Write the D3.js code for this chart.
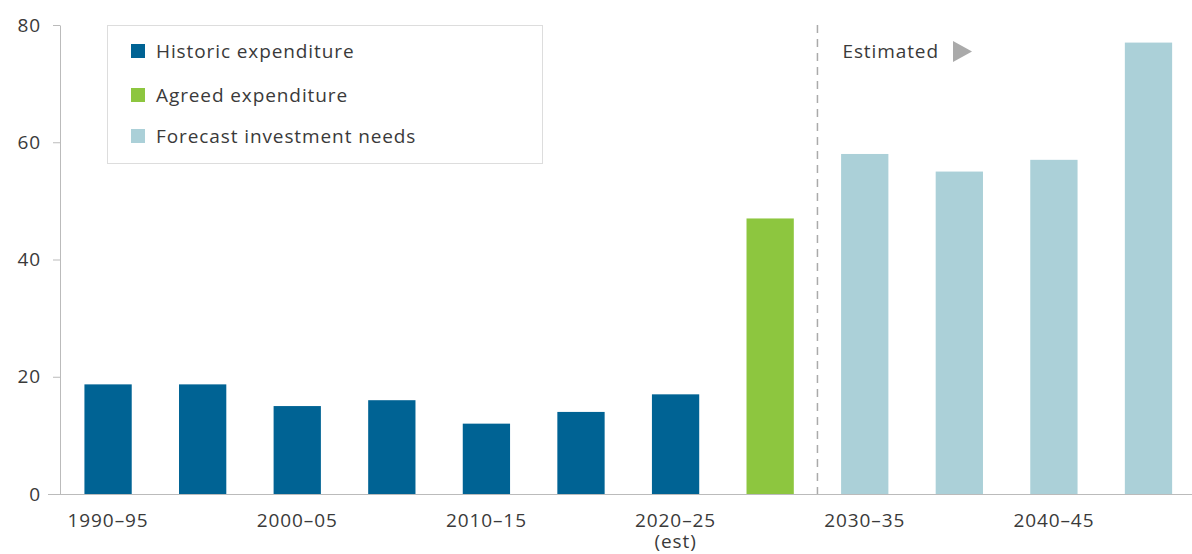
<!DOCTYPE html>
<html>
<head>
<meta charset="utf-8">
<script src="https://d3js.org/d3.v7.min.js"></script>
<style>
  body { margin: 0; background: #fff; }
  text { font-family: "Open Sans", sans-serif; fill: #3a3a3a; font-size: 19px; letter-spacing: 0.9px; }
</style>
</head>
<body>
<svg id="chart" width="1192" height="554"></svg>
<script>
// periods, one bar each; only every other one gets a label
var periods = ["1990-95", "1995-00", "2000-05", "2005-10", "2010-15", "2015-20",
               "2020-25", "2025-30", "2030-35", "2035-40", "2040-45", "2045-50"];
var tickLabels = ["1990–95", "", "2000–05", "", "2010–15", "", "2020–25", "", "2030–35", "", "2040–45", ""];
var values = [18.7, 18.7, 15, 16, 12, 14, 17, 47, 58, 55, 57, 77];
var kinds = ["historic", "historic", "historic", "historic", "historic", "historic", "historic",
             "agreed", "forecast", "forecast", "forecast", "forecast"];
var legendKeys = ["historic", "agreed", "forecast"];
var legendLabels = ["Historic expenditure", "Agreed expenditure", "Forecast investment needs"];
var yTicks = [0, 20, 40, 60, 80];

var color = d3.scaleOrdinal()
    .domain(legendKeys)
    .range(["#006394", "#8dc63f", "#abd0d8"]);

var svg = d3.select("#chart");
var axisX = 60, plotTop = 25, plotBottom = 494;

var x = d3.scaleBand().domain(periods).range([57, 1192])
    .paddingInner(0.5).paddingOuter(0.25).align(0.58);
var y = d3.scaleLinear().domain([0, 80]).range([plotBottom, plotTop]);

// y axis
var yAxis = svg.append("g").attr("transform", "translate(" + axisX + ",0)")
    .call(d3.axisLeft(y).tickValues(yTicks).tickSize(7).tickSizeOuter(0));
yAxis.select(".domain").attr("stroke", "#bbb");
yAxis.selectAll(".tick line").attr("stroke", "#bbb");
yAxis.selectAll(".tick text").attr("x", -19).attr("fill", "#3a3a3a")
    .style("font-size", "19px").style("font-family", "'Open Sans', sans-serif");

// bars
svg.append("g").selectAll("rect").data(values).join("rect")
    .attr("x", function(d, i) { return x(periods[i]); })
    .attr("y", function(d) { return y(d); })
    .attr("width", x.bandwidth())
    .attr("height", function(d) { return plotBottom - y(d); })
    .attr("fill", function(d, i) { return color(kinds[i]); });

// x axis
svg.append("line").attr("x1", 48).attr("x2", 1192)
    .attr("y1", plotBottom + 0.5).attr("y2", plotBottom + 0.5).attr("stroke", "#bbb");
svg.append("g").selectAll("text").data(periods).join("text")
    .attr("x", function(d) { return x(d) + x.bandwidth() / 2; })
    .attr("y", plotBottom + 33)
    .attr("text-anchor", "middle")
    .text(function(d, i) { return tickLabels[i]; });
svg.append("text")
    .attr("x", x("2020-25") + x.bandwidth() / 2).attr("y", plotBottom + 54)
    .attr("text-anchor", "middle").text("(est)");

// estimated divider
var divX = (x("2025-30") + x.bandwidth() + x("2030-35")) / 2;
svg.append("line").attr("x1", divX).attr("x2", divX)
    .attr("y1", plotTop).attr("y2", plotBottom)
    .attr("stroke", "#aaa").attr("stroke-width", 1.5).attr("stroke-dasharray", "8,6");
svg.append("text").attr("x", divX + 25).attr("y", 58).text("Estimated");
svg.append("path").attr("d", "M953,41 L972,51.5 L953,62 Z").attr("fill", "#aaa");

// legend
var lg = svg.append("g");
lg.append("rect").attr("x", 107.5).attr("y", 25.5).attr("width", 435).attr("height", 138)
    .attr("fill", "#fff").attr("stroke", "#ddd");
var row = lg.selectAll("g.row").data(legendKeys).join("g").attr("class", "row")
    .attr("transform", function(d, i) { return "translate(131," + [51, 95, 136][i] + ")"; });
row.append("rect").attr("x", 0).attr("y", -7).attr("width", 14).attr("height", 14)
    .attr("fill", function(d) { return color(d); });
row.append("text").attr("x", 25).attr("y", 6.5)
    .text(function(d, i) { return legendLabels[i]; });
</script>
</body>
</html>
